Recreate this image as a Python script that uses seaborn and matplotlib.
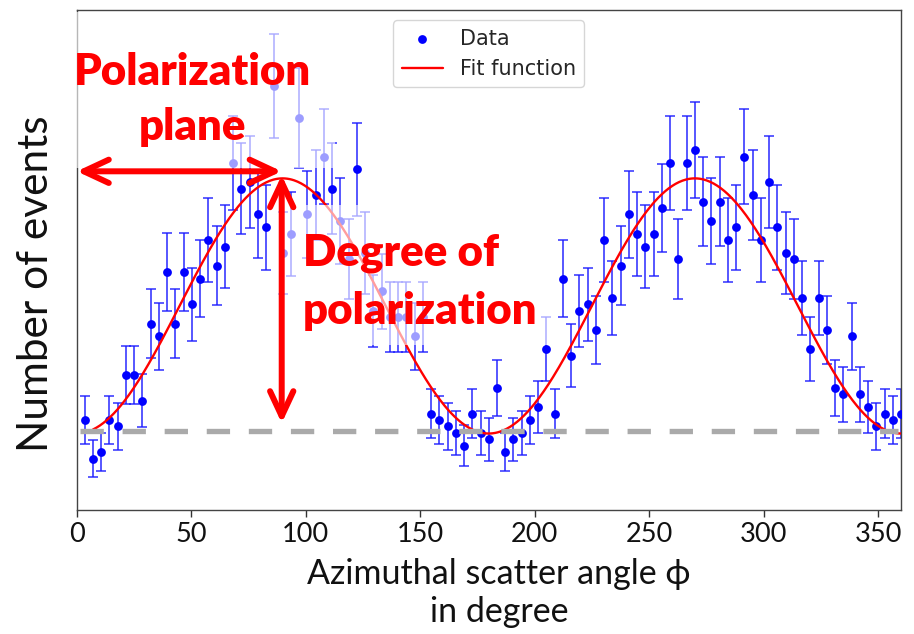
import numpy as np
import pandas as pd
import matplotlib
matplotlib.use("Agg")
import matplotlib.pyplot as plt
from matplotlib.patches import Rectangle
import seaborn as sns

# ---------------- data ----------------
bin_width = 3.6                                   # degree per bin
angles = np.arange(1, 101) * bin_width            # 100 bins, 3.6 .. 360 deg
counts = [14, 8, 9, 14, 13, 21, 21, 17, 29, 27,
          37, 29, 37, 32, 36, 42, 38, 41, 54, 50,
          51, 46, 44, 66, 40, 43, 61, 46, 49, 55,
          50, 45, 39, 53, 40, 31, 34, 30, 30, 30,
          27, 30, 15, 14, 13, 12, 10, 15, 12, 11,
          19, 9, 11, 12, 14, 16, 25, 15, 36, 24,
          31, 32, 28, 42, 33, 38, 46, 43, 41, 43,
          47, 54, 39, 54, 56, 48, 45, 48, 42, 44,
          55, 49, 42, 51, 44, 40, 39, 33, 25, 33,
          28, 19, 18, 27, 18, 16, 13, 15, 14, 15]
fit_offset = 11.9          # minimum of fit
fit_amplitude = 39.7       # modulation amplitude
fit_start = 7.2            # fit curve drawn from this angle
baseline_level = 12.25     # grey dashed reference line
xticks = [0, 50, 100, 150, 200, 250, 300, 350]
legend_labels = ["Data", "Fit function"]
plane_text = ["Polarization", "plane"]
degree_text = ["Degree of", "polarization"]
x_label = "Azimuthal scatter angle \u03d5\nin degree"
y_label = "Number of events"

# ---------------- figure ----------------
sns.set_theme(style="white")
plt.rcParams['font.family'] = ['Lato', 'DejaVu Sans']

W, H = 914, 634
fig = plt.figure(figsize=(W / 100, H / 100), dpi=100)
ax = fig.add_axes([76.5 / W, 1 - 510 / H, 824.5 / W, 500 / H])

df = pd.DataFrame({"angle": angles, "count": counts})
df["err"] = np.sqrt(df["count"])

ax.errorbar(df["angle"], df["count"], yerr=df["err"], fmt="none",
            ecolor="#1a1aff", elinewidth=1.15, capsize=3.6, capthick=1.1,
            alpha=0.9, zorder=2)
sns.scatterplot(data=df, x="angle", y="count", color="blue", s=40,
                linewidth=0, ax=ax, label=legend_labels[0], zorder=3)

phi = np.linspace(fit_start, 360, 700)
fit_df = pd.DataFrame({"phi": phi,
                       "fit": fit_offset + fit_amplitude * np.sin(np.radians(phi)) ** 2})
sns.lineplot(data=fit_df, x="phi", y="fit", color="red", lw=1.7,
             estimator=None, ax=ax, label=legend_labels[1], zorder=4)

ax.axhline(baseline_level, xmin=1.5 / 360, xmax=358.6 / 360, color="#aaaaaa",
           lw=3.85, linestyle=(0, (4.36, 3.51)), zorder=4.5)

ax.set_xlim(0, 360)
ax.set_ylim(0, 77.8)
ax.set_xticks(xticks)
ax.set_yticks([])
ax.tick_params(axis="x", bottom=True, length=5, width=1, color="#333333",
               labelsize=19.5, pad=4, labelcolor="#111111")
for sp in ax.spines.values():
    sp.set_color("#444444")
    sp.set_linewidth(1.0)

ax.set_xlabel(x_label, fontsize=24.5, color="#111111", linespacing=1.25)
ax.xaxis.set_label_coords(0.5125, -0.096)
ax.set_ylabel(y_label, fontsize=30.5, color="#111111")
ax.yaxis.set_label_coords(-0.026, 0.452)

leg = ax.legend(loc="upper center", prop={"family": "DejaVu Sans", "size": 15},
                frameon=True, framealpha=0.8, edgecolor="0.8", fancybox=True)
leg.set_zorder(12)

# semi-transparent white backgrounds of the two text annotations
for (x0, y0, x1, y1) in [(68, 12, 335, 168), (272, 205, 552, 345)]:
    ax.add_patch(Rectangle((x0 / W, 1 - y1 / H), (x1 - x0) / W, (y1 - y0) / H,
                           transform=fig.transFigure, facecolor="white",
                           edgecolor="none", alpha=0.62, zorder=5, clip_on=False))

arrow_style = "<->,head_length=1.8,head_width=0.84"
ax.annotate("", xy=(0.1, 52.7), xytext=(89.6, 52.7),
            arrowprops=dict(arrowstyle=arrow_style, color="red", lw=4.3,
                            shrinkA=0, shrinkB=0, mutation_scale=10),
            zorder=10)
ax.annotate("", xy=(89.6, 52.1), xytext=(89.6, 13.5),
            arrowprops=dict(arrowstyle=arrow_style, color="red", lw=4.3,
                            shrinkA=0, shrinkB=0, mutation_scale=10),
            zorder=10)

tkw = dict(color="red", fontsize=31.5, fontweight="heavy", zorder=11)
ax.text(50.6, 66.1, plane_text[0], ha="center", va="baseline", **tkw)
ax.text(50.6, 57.5, plane_text[1], ha="center", va="baseline", **tkw)
ax.text(99.0, 38.1, degree_text[0], ha="left", va="baseline", **tkw)
ax.text(99.0, 29.0, degree_text[1], ha="left", va="baseline", **tkw)

fig.savefig("out.png", dpi=100)
